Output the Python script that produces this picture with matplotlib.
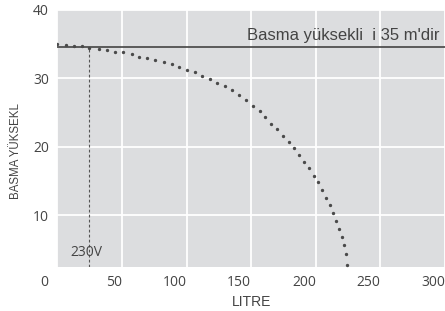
import matplotlib
matplotlib.use("Agg")
import matplotlib.pyplot as plt
import matplotlib.transforms as mtransforms

litre = [0, 6.6, 12.8, 19.2, 24.6, 32, 38.6, 44.5, 51, 57.4, 63.3, 69.5, 75.7, 82.2, 88.4,
         94.3, 100.5, 106.4, 112.1, 118, 123.9, 129.6, 135, 140.2, 145.6, 151.5, 156.5,
         160.8, 165.5, 170.1, 174.8, 178.9, 183, 187.2, 190.8, 194.7, 198.3, 201.9, 205,
         208.1, 210.9, 213.5, 215.8, 217.9, 220, 221.8, 223.1, 224.4]
head = [35.0, 34.9, 34.8, 34.7, 34.5, 34.3, 34.2, 33.9, 33.8, 33.5, 33.2, 33.0, 32.7, 32.4,
        32.1, 31.7, 31.3, 31.0, 30.4, 29.9, 29.4, 28.9, 28.3, 27.6, 26.9, 26.0, 25.2, 24.3,
        23.4, 22.6, 21.6, 20.7, 19.8, 18.8, 17.8, 16.9, 15.8, 14.8, 13.7, 12.6, 11.5, 10.4,
        9.2, 8.0, 6.9, 5.7, 4.4, 2.8]
max_head = 34.6
op_litre = 24.3
xticks = [0, 50, 100, 150, 200, 250, 300]
yticks = [10, 20, 30, 40]

plt.rcParams['font.family'] = ['Open Sans', 'DejaVu Sans']
lab_font = ['Liberation Sans', 'DejaVu Sans']
txt = '#444444'

fig = plt.figure(figsize=(4.45, 3.11), dpi=100)
ax = fig.add_axes([0.129, 0.1415, 0.871, 0.8265])
ax.set_facecolor('#dcdddf')
for s in ax.spines.values():
    s.set_visible(False)
ax.set_xlim(0, 300)
ax.set_ylim(2.45, 40)
ax.set_xticks(xticks)
ax.set_yticks(yticks)
ax.grid(True, color='white', linewidth=1.3)
ax.set_axisbelow(True)
ax.tick_params(length=0, labelsize=10, labelcolor=txt, pad=6)
for lab in ax.get_xticklabels():
    lab.set_ha('right')
xl0 = ax.get_xticklabels()[0]
xl0.set_transform(xl0.get_transform() + mtransforms.ScaledTranslation(-0.095, 0, fig.dpi_scale_trans))

ax.axhline(max_head, color='#444444', linewidth=1.2)
ax.plot([op_litre, op_litre], [2.45, max_head], color='#555555', linestyle=(0, (2.5, 2)), linewidth=0.8)
ax.plot(litre, head, linestyle='none', marker='o', markersize=1.4, color='#4a4a4a')

ax.text(296, 35.55, "Basma yüksekli  i 35 m'dir", ha='right', va='baseline',
        fontsize=12, color=txt, family=lab_font)
ax.text(22.3, 4.1, '230V', ha='center', va='baseline', fontsize=10, color=txt)

ax.set_xlabel('LITRE', fontsize=10, color=txt, family=lab_font)
ax.xaxis.set_label_coords(0.5, -0.108)
ax.xaxis.label.set_va('top')
ax.set_ylabel('BASMA YÜKSEKL', fontsize=8.3, color=txt, family=lab_font)
ax.yaxis.set_label_coords(-0.0915, 0.45)

fig.savefig('out.png', dpi=100)
